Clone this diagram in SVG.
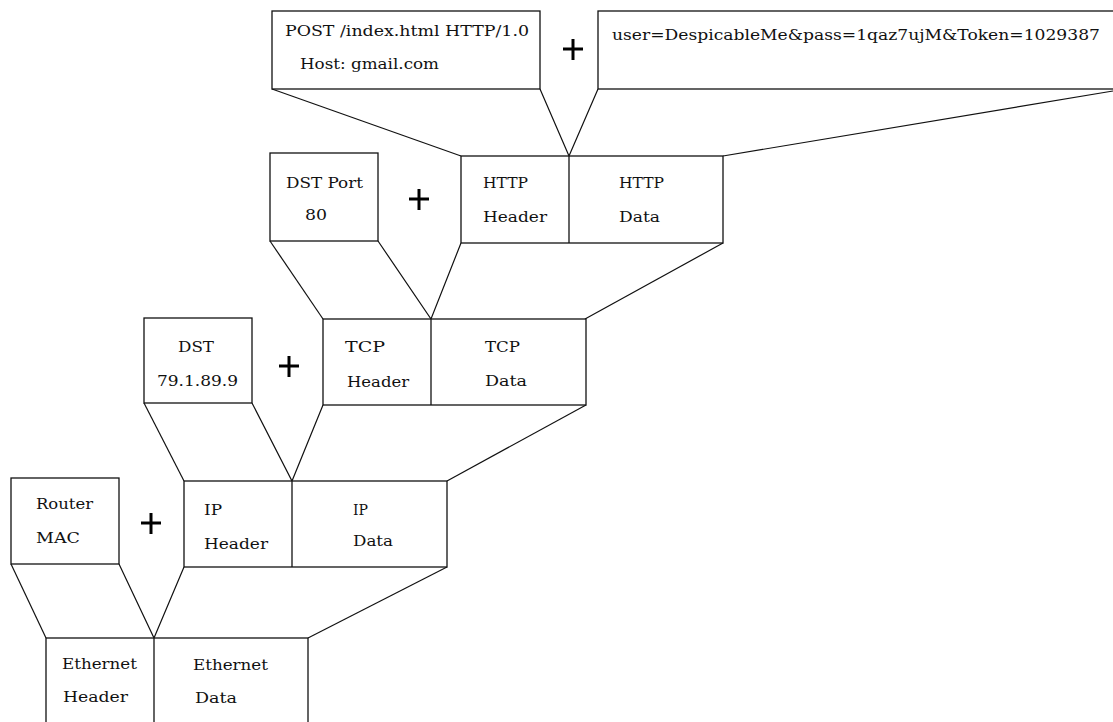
<svg xmlns="http://www.w3.org/2000/svg" width="1113" height="722" viewBox="0 0 1113 722">
  <style>
    .box { fill: #fff; stroke: #111; stroke-width: 1.3; }
    .div { stroke: #111; stroke-width: 1.3; }
    .wire { fill: none; stroke: #111; stroke-width: 1.2; }
    .plus { stroke: #000; stroke-width: 3; }
    text { font-family: "DejaVu Serif", "Liberation Serif", serif; font-size: 14px; fill: #111; }
    .big { font-size: 15px; }
  </style>
  <rect width="1113" height="722" fill="#fff"/>

  <!-- funnel lines joining each layer to the one below -->
  <g id="connectors">
    <polyline class="wire" points="272,89 461,156"/>
    <polyline class="wire" points="540,89 569,156 598,89"/>
    <polyline class="wire" points="1113,91 723,156"/>

    <polyline class="wire" points="270,241 323,319"/>
    <polyline class="wire" points="378,241 431,319 461,243"/>
    <polyline class="wire" points="723,243 585,319"/>

    <polyline class="wire" points="144,403 184,481"/>
    <polyline class="wire" points="252,403 292,481 323,405"/>
    <polyline class="wire" points="586,405 447,481"/>

    <polyline class="wire" points="11,564 46,638"/>
    <polyline class="wire" points="119,564 154,638 184,567"/>
    <polyline class="wire" points="447,567 308,638"/>
  </g>

  <!-- HTTP layer -->
  <g id="http-request-line">
    <rect class="box" x="272" y="11" width="268" height="78"/>
    <text x="285" y="36" textLength="244" lengthAdjust="spacingAndGlyphs">POST /index.html HTTP/1.0</text>
    <text x="300" y="69" textLength="139" lengthAdjust="spacingAndGlyphs">Host: gmail.com</text>
  </g>
  <g id="plus-http">
    <line class="plus" x1="563" y1="49" x2="583" y2="49"/>
    <line class="plus" x1="573" y1="39" x2="573" y2="60"/>
  </g>
  <g id="http-body">
    <rect class="box" x="598" y="11" width="520" height="78"/>
    <text x="612" y="40" textLength="488" lengthAdjust="spacingAndGlyphs">user=DespicableMe&amp;pass=1qaz7ujM&amp;Token=1029387</text>
  </g>
  <g id="http-packet">
    <rect class="box" x="461" y="156" width="262" height="87"/>
    <line class="div" x1="569" y1="156" x2="569" y2="243"/>
    <text x="483" y="188" textLength="45" lengthAdjust="spacingAndGlyphs">HTTP</text>
    <text x="483" y="222" textLength="64" lengthAdjust="spacingAndGlyphs">Header</text>
    <text x="619" y="188" textLength="45" lengthAdjust="spacingAndGlyphs">HTTP</text>
    <text x="619" y="222" textLength="41" lengthAdjust="spacingAndGlyphs">Data</text>
  </g>

  <!-- TCP layer -->
  <g id="dst-port">
    <rect class="box" x="270" y="153" width="108" height="88"/>
    <text x="286" y="188" textLength="77" lengthAdjust="spacingAndGlyphs">DST Port</text>
    <text x="305" y="220" textLength="22" lengthAdjust="spacingAndGlyphs">80</text>
  </g>
  <g id="plus-tcp">
    <line class="plus" x1="409" y1="199" x2="429" y2="199"/>
    <line class="plus" x1="419" y1="189" x2="419" y2="210"/>
  </g>
  <g id="tcp-packet">
    <rect class="box" x="323" y="319" width="263" height="86"/>
    <line class="div" x1="431" y1="319" x2="431" y2="405"/>
    <text x="345" y="352" textLength="40" lengthAdjust="spacingAndGlyphs">TCP</text>
    <text x="347" y="387" textLength="62" lengthAdjust="spacingAndGlyphs">Header</text>
    <text x="485" y="352" textLength="35" lengthAdjust="spacingAndGlyphs">TCP</text>
    <text x="485" y="386" textLength="42" lengthAdjust="spacingAndGlyphs">Data</text>
  </g>

  <!-- IP layer -->
  <g id="dst-ip">
    <rect class="box" x="144" y="318" width="108" height="85"/>
    <text x="178" y="352" textLength="36" lengthAdjust="spacingAndGlyphs">DST</text>
    <text x="157" y="386" textLength="81" lengthAdjust="spacingAndGlyphs">79.1.89.9</text>
  </g>
  <g id="plus-ip">
    <line class="plus" x1="279" y1="366" x2="299" y2="366"/>
    <line class="plus" x1="289" y1="356" x2="289" y2="377"/>
  </g>
  <g id="ip-packet">
    <rect class="box" x="184" y="481" width="263" height="86"/>
    <line class="div" x1="292" y1="481" x2="292" y2="567"/>
    <text class="big" x="204" y="515" textLength="18" lengthAdjust="spacingAndGlyphs">IP</text>
    <text x="204" y="549" textLength="64" lengthAdjust="spacingAndGlyphs">Header</text>
    <text class="big" x="353" y="515" textLength="15" lengthAdjust="spacingAndGlyphs">IP</text>
    <text x="353" y="546" textLength="40" lengthAdjust="spacingAndGlyphs">Data</text>
  </g>

  <!-- Ethernet layer -->
  <g id="router-mac">
    <rect class="box" x="11" y="478" width="108" height="86"/>
    <text x="36" y="509" textLength="57" lengthAdjust="spacingAndGlyphs">Router</text>
    <text x="36" y="543" textLength="44" lengthAdjust="spacingAndGlyphs">MAC</text>
  </g>
  <g id="plus-eth">
    <line class="plus" x1="141" y1="523" x2="161" y2="523"/>
    <line class="plus" x1="151" y1="513" x2="151" y2="534"/>
  </g>
  <g id="ethernet-frame">
    <rect class="box" x="46" y="638" width="262" height="100"/>
    <line class="div" x1="154" y1="638" x2="154" y2="738"/>
    <text x="62" y="669" textLength="75" lengthAdjust="spacingAndGlyphs">Ethernet</text>
    <text x="63" y="702" textLength="65" lengthAdjust="spacingAndGlyphs">Header</text>
    <text x="193" y="670" textLength="75" lengthAdjust="spacingAndGlyphs">Ethernet</text>
    <text x="195" y="703" textLength="42" lengthAdjust="spacingAndGlyphs">Data</text>
  </g>
</svg>
